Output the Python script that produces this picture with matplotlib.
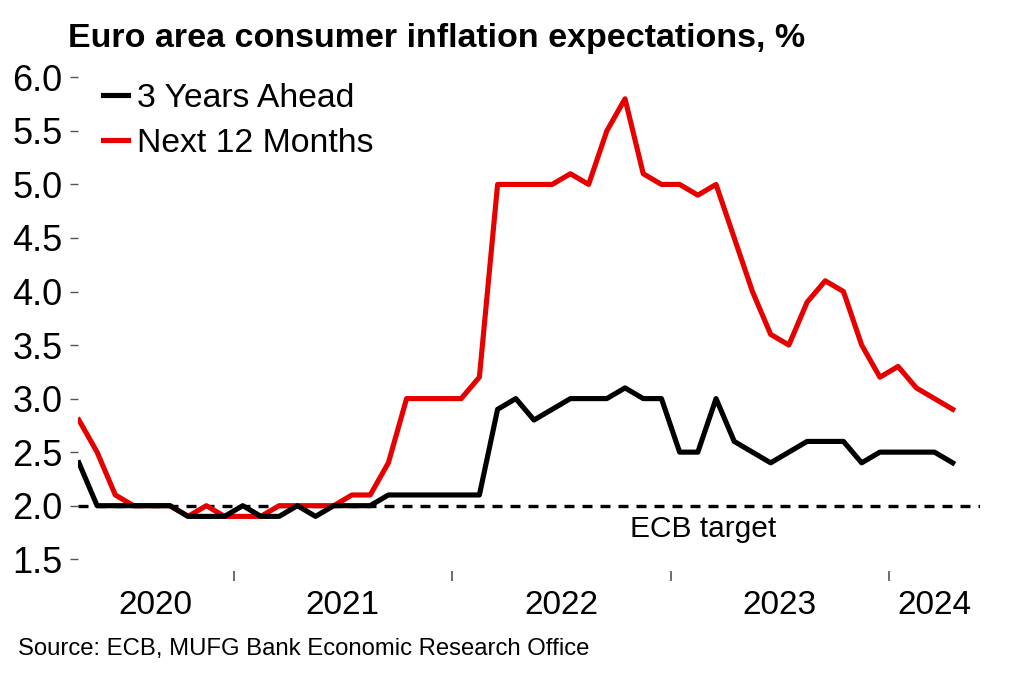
import numpy as np
import matplotlib.pyplot as plt

plt.rcParams['font.family'] = ['Liberation Sans', 'DejaVu Sans']

# monthly survey, Apr 2020 .. Apr 2024
three_years = [2.4, 2.0, 2.0, 2.0, 2.0, 2.0, 1.9, 1.9, 1.9, 2.0, 1.9, 1.9, 2.0, 1.9, 2.0, 2.0, 2.0,
               2.1, 2.1, 2.1, 2.1, 2.1, 2.1, 2.9, 3.0, 2.8, 2.9, 3.0, 3.0, 3.0, 3.1, 3.0, 3.0,
               2.5, 2.5, 3.0, 2.6, 2.5, 2.4, 2.5, 2.6, 2.6, 2.6, 2.4, 2.5, 2.5, 2.5, 2.5, 2.4]
next_12m = [2.8, 2.5, 2.1, 2.0, 2.0, 2.0, 1.9, 2.0, 1.9, 1.9, 1.9, 2.0, 2.0, 2.0, 2.0, 2.1, 2.1,
            2.4, 3.0, 3.0, 3.0, 3.0, 3.2, 5.0, 5.0, 5.0, 5.0, 5.1, 5.0, 5.5, 5.8, 5.1, 5.0,
            5.0, 4.9, 5.0, 4.5, 4.0, 3.6, 3.5, 3.9, 4.1, 4.0, 3.5, 3.2, 3.3, 3.1, 3.0, 2.9]
years = ['2020', '2021', '2022', '2023', '2024']
ecb_target = 2.0

months = np.arange(len(three_years))

fig = plt.figure(figsize=(10.22, 6.81), dpi=100)
ax = fig.add_axes([78 / 1022, 1 - 571 / 681, (980 - 78) / 1022, (571 - 72) / 681])

ax.axhline(ecb_target, color='black', lw=2.4, ls=(0, (3.0, 2.4)), zorder=1)
ax.plot(months, three_years, color='black', lw=3.7, label='3 Years Ahead', zorder=3)
ax.plot(months, next_12m, color='#E60000', lw=3.7, label='Next 12 Months', zorder=2)

ax.set_xlim(-0.05, 49.5)
ax.set_ylim(1.39, 6.05)

# y axis
ax.set_yticks(np.arange(1.5, 6.01, 0.5))
ax.set_yticklabels(['%.1f' % v for v in np.arange(1.5, 6.01, 0.5)])
ax.tick_params(axis='y', length=6, width=1, color='#555555', pad=5, labelsize=26)

# x axis: year boundaries as ticks, year names centred between them
bounds = [8.5, 20.5, 32.5, 44.5]
edges = [-0.05] + bounds + [49.5]
centres = [(edges[k] + edges[k + 1]) / 2 for k in range(len(years))]
ax.set_xticks(bounds)
ax.set_xticklabels([])
ax.set_xticks(centres, minor=True)
ax.set_xticklabels(years, minor=True)
ax.tick_params(axis='x', which='major', length=7, width=1.2, color='#555555')
ax.tick_params(axis='x', which='minor', length=0, pad=14, labelsize=24)

for s in ax.spines.values():
    s.set_visible(False)

ax.text(34.3, 1.78, 'ECB target', fontsize=21.5, ha='center', va='center')

ax.legend(loc='upper left', bbox_to_anchor=(103 / 1022, 1 - 83 / 681),
          bbox_transform=fig.transFigure, frameon=False, fontsize=24.3,
          handlelength=0.75, handletextpad=0.25, labelspacing=0.42,
          borderpad=0, borderaxespad=0)

fig.text(68 / 1022, 1 - 38 / 681, 'Euro area consumer inflation expectations, %',
         fontsize=24.5, fontweight='bold', va='center', ha='left')
fig.text(18 / 1022, 1 - 649 / 681, 'Source: ECB, MUFG Bank Economic Research Office',
         fontsize=17.2, va='center', ha='left')

fig.savefig('out.png', dpi=100)
